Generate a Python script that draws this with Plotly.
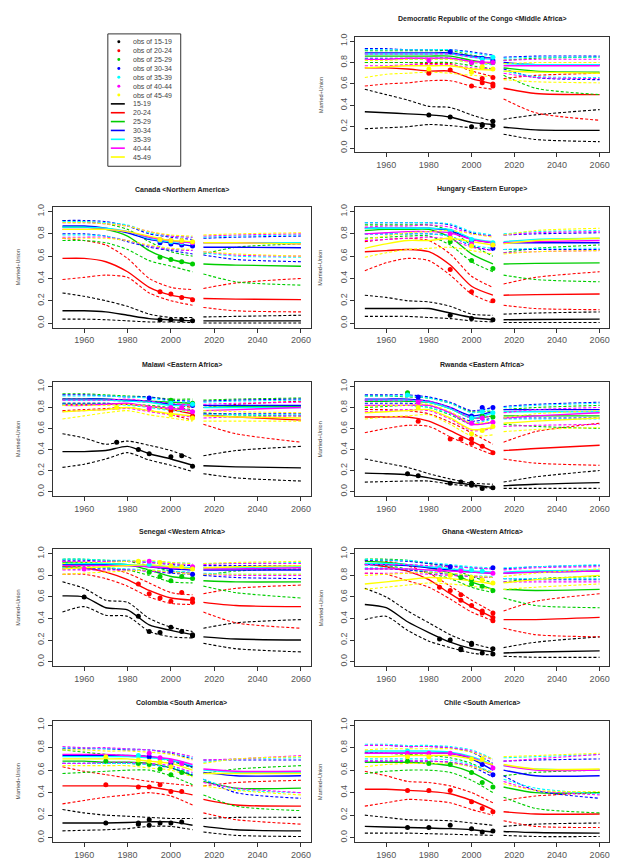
import plotly.graph_objects as go

# ---------------- data ----------------
AGE_GROUPS = ["15-19", "20-24", "25-29", "30-34", "35-39", "40-44", "45-49"]
PAST_YEARS = [1950, 1960, 1970, 1980, 1990, 2000, 2010]
FUTURE_YEARS = [2015, 2030, 2060]
X_TICKS = [1960, 1980, 2000, 2020, 2040, 2060]
Y_TICKS = [0.0, 0.2, 0.4, 0.6, 0.8, 1.0]
Y_TICK_TEXT = ["0.0", "0.2", "0.4", "0.6", "0.8", "1.0"]

# each row: 7 past values (PAST_YEARS) then 3 future values (FUTURE_YEARS)
# ---- DR Congo
COD_MED = [
    [0.34, 0.33, 0.32, 0.31, 0.29, 0.24, 0.22, 0.195, 0.17, 0.165],
    [0.75, 0.75, 0.74, 0.72, 0.72, 0.65, 0.60, 0.56, 0.51, 0.50],
    [0.86, 0.86, 0.86, 0.86, 0.86, 0.82, 0.79, 0.75, 0.72, 0.71],
    [0.89, 0.89, 0.89, 0.89, 0.89, 0.86, 0.84, 0.80, 0.78, 0.78],
    [0.88, 0.88, 0.88, 0.88, 0.88, 0.85, 0.83, 0.79, 0.78, 0.78],
    [0.83, 0.83, 0.84, 0.84, 0.84, 0.81, 0.80, 0.77, 0.77, 0.77],
    [0.75, 0.76, 0.77, 0.77, 0.77, 0.74, 0.73, 0.72, 0.71, 0.70],
]
COD_LO = [
    [0.18, 0.19, 0.20, 0.22, 0.21, 0.19, 0.18, 0.13, 0.08, 0.06],
    [0.58, 0.60, 0.61, 0.63, 0.63, 0.58, 0.55, 0.46, 0.33, 0.26],
    [0.80, 0.80, 0.80, 0.80, 0.80, 0.77, 0.74, 0.68, 0.56, 0.50],
    [0.84, 0.84, 0.84, 0.84, 0.84, 0.81, 0.79, 0.74, 0.66, 0.64],
    [0.83, 0.83, 0.83, 0.83, 0.83, 0.80, 0.78, 0.72, 0.67, 0.66],
    [0.77, 0.77, 0.78, 0.78, 0.78, 0.75, 0.74, 0.70, 0.66, 0.65],
    [0.66, 0.69, 0.70, 0.71, 0.70, 0.68, 0.67, 0.64, 0.62, 0.61],
]
COD_HI = [
    [0.55, 0.50, 0.45, 0.39, 0.38, 0.31, 0.25, 0.27, 0.31, 0.36],
    [0.80, 0.80, 0.80, 0.79, 0.79, 0.72, 0.67, 0.65, 0.68, 0.70],
    [0.91, 0.91, 0.91, 0.91, 0.91, 0.87, 0.84, 0.82, 0.84, 0.85],
    [0.93, 0.93, 0.92, 0.92, 0.92, 0.90, 0.87, 0.85, 0.86, 0.86],
    [0.92, 0.92, 0.92, 0.92, 0.92, 0.89, 0.86, 0.84, 0.85, 0.85],
    [0.88, 0.88, 0.88, 0.88, 0.88, 0.85, 0.84, 0.82, 0.83, 0.83],
    [0.82, 0.82, 0.83, 0.83, 0.83, 0.80, 0.79, 0.79, 0.80, 0.80],
]
COD_OBS = [
    [[1980, 0.31], [1990, 0.29], [2000, 0.20], [2005, 0.21], [2005, 0.22], [2010, 0.25], [2010, 0.21]],
    [[1980, 0.70], [1990, 0.73], [2000, 0.58], [2005, 0.65], [2005, 0.61], [2010, 0.66], [2010, 0.60], [2010, 0.58]],
    [[2000, 0.80], [2010, 0.80]],
    [[1990, 0.90], [2005, 0.84], [2010, 0.82]],
    [[2005, 0.83], [2010, 0.85]],
    [[1980, 0.82], [2000, 0.80], [2005, 0.80], [2010, 0.80]],
    [[1980, 0.74], [2000, 0.71], [2005, 0.76], [2010, 0.74]],
]
# ---- Canada
CAN_MED = [
    [0.11, 0.11, 0.10, 0.07, 0.04, 0.03, 0.02, 0.02, 0.02, 0.02],
    [0.58, 0.58, 0.55, 0.46, 0.32, 0.25, 0.22, 0.22, 0.215, 0.21],
    [0.86, 0.86, 0.84, 0.78, 0.65, 0.57, 0.53, 0.53, 0.52, 0.51],
    [0.87, 0.87, 0.85, 0.81, 0.75, 0.72, 0.69, 0.68, 0.68, 0.675],
    [0.86, 0.86, 0.85, 0.82, 0.76, 0.73, 0.72, 0.72, 0.72, 0.72],
    [0.84, 0.84, 0.84, 0.82, 0.77, 0.74, 0.72, 0.72, 0.72, 0.71],
    [0.84, 0.84, 0.84, 0.82, 0.78, 0.74, 0.73, 0.72, 0.72, 0.71],
]
CAN_LO = [
    [0.035, 0.035, 0.03, 0.02, 0.01, 0.01, 0.005, 0.0, 0.0, 0.0],
    [0.39, 0.41, 0.43, 0.41, 0.27, 0.20, 0.16, 0.14, 0.11, 0.10],
    [0.74, 0.74, 0.72, 0.66, 0.56, 0.51, 0.46, 0.44, 0.37, 0.34],
    [0.80, 0.80, 0.78, 0.73, 0.68, 0.65, 0.62, 0.61, 0.57, 0.55],
    [0.79, 0.79, 0.78, 0.74, 0.69, 0.66, 0.65, 0.63, 0.60, 0.59],
    [0.77, 0.77, 0.77, 0.74, 0.69, 0.66, 0.65, 0.64, 0.61, 0.60],
    [0.76, 0.76, 0.76, 0.74, 0.70, 0.67, 0.66, 0.64, 0.62, 0.60],
]
CAN_HI = [
    [0.27, 0.24, 0.20, 0.15, 0.08, 0.05, 0.05, 0.055, 0.06, 0.07],
    [0.76, 0.74, 0.70, 0.58, 0.40, 0.32, 0.30, 0.31, 0.36, 0.40],
    [0.92, 0.91, 0.89, 0.84, 0.73, 0.64, 0.60, 0.62, 0.68, 0.71],
    [0.92, 0.92, 0.91, 0.87, 0.80, 0.77, 0.75, 0.76, 0.77, 0.78],
    [0.91, 0.91, 0.90, 0.88, 0.81, 0.78, 0.77, 0.77, 0.78, 0.79],
    [0.90, 0.90, 0.89, 0.87, 0.82, 0.78, 0.77, 0.78, 0.79, 0.80],
    [0.90, 0.90, 0.89, 0.87, 0.82, 0.79, 0.78, 0.79, 0.80, 0.81],
]
CAN_OBS = [
    [[1995, 0.03], [2000, 0.03], [2005, 0.03], [2010, 0.02]],
    [[1995, 0.28], [2000, 0.26], [2005, 0.23], [2010, 0.21]],
    [[1995, 0.59], [2000, 0.57], [2005, 0.55], [2010, 0.53]],
    [[1995, 0.72], [2000, 0.71], [2005, 0.70], [2010, 0.69]],
    [[1995, 0.74], [2000, 0.73], [2005, 0.72], [2010, 0.72]],
    [[1995, 0.75], [2000, 0.74], [2005, 0.73], [2010, 0.72]],
    [[1995, 0.75], [2000, 0.74], [2005, 0.74], [2010, 0.73]],
]
# ---- Hungary
HUN_MED = [
    [0.13, 0.13, 0.13, 0.13, 0.09, 0.05, 0.03, 0.03, 0.032, 0.035],
    [0.64, 0.65, 0.66, 0.64, 0.52, 0.33, 0.25, 0.25, 0.255, 0.26],
    [0.83, 0.84, 0.84, 0.84, 0.77, 0.62, 0.53, 0.53, 0.535, 0.54],
    [0.85, 0.85, 0.85, 0.85, 0.83, 0.75, 0.72, 0.72, 0.72, 0.72],
    [0.85, 0.85, 0.85, 0.85, 0.84, 0.76, 0.73, 0.73, 0.75, 0.76],
    [0.80, 0.81, 0.82, 0.82, 0.81, 0.75, 0.72, 0.72, 0.73, 0.74],
    [0.67, 0.71, 0.74, 0.74, 0.76, 0.73, 0.70, 0.71, 0.74, 0.76],
]
HUN_LO = [
    [0.06, 0.06, 0.06, 0.05, 0.04, 0.02, 0.01, 0.005, 0.005, 0.005],
    [0.47, 0.54, 0.58, 0.56, 0.43, 0.26, 0.18, 0.16, 0.13, 0.12],
    [0.76, 0.77, 0.78, 0.78, 0.70, 0.55, 0.46, 0.43, 0.39, 0.37],
    [0.80, 0.80, 0.80, 0.80, 0.78, 0.69, 0.65, 0.66, 0.66, 0.66],
    [0.80, 0.80, 0.80, 0.80, 0.78, 0.70, 0.67, 0.66, 0.67, 0.67],
    [0.74, 0.75, 0.76, 0.77, 0.75, 0.68, 0.65, 0.63, 0.64, 0.65],
    [0.59, 0.63, 0.66, 0.67, 0.68, 0.65, 0.62, 0.62, 0.64, 0.65],
]
HUN_HI = [
    [0.25, 0.23, 0.20, 0.19, 0.15, 0.08, 0.07, 0.08, 0.09, 0.10],
    [0.73, 0.75, 0.76, 0.74, 0.62, 0.42, 0.32, 0.35, 0.41, 0.46],
    [0.88, 0.88, 0.88, 0.88, 0.83, 0.70, 0.60, 0.63, 0.67, 0.70],
    [0.90, 0.90, 0.90, 0.90, 0.88, 0.81, 0.78, 0.79, 0.80, 0.81],
    [0.90, 0.90, 0.90, 0.90, 0.89, 0.82, 0.79, 0.80, 0.82, 0.83],
    [0.86, 0.87, 0.87, 0.88, 0.86, 0.80, 0.78, 0.79, 0.81, 0.82],
    [0.75, 0.78, 0.81, 0.82, 0.83, 0.80, 0.77, 0.79, 0.83, 0.85],
]
HUN_OBS = [
    [[1990, 0.07], [2000, 0.04], [2010, 0.03]],
    [[1990, 0.48], [2000, 0.28], [2010, 0.20]],
    [[1990, 0.73], [2000, 0.56], [2010, 0.49]],
    [[2000, 0.74], [2010, 0.67]],
    [[1990, 0.82], [2000, 0.75], [2010, 0.72]],
    [[1990, 0.80], [2000, 0.71], [2010, 0.70]],
    [[1990, 0.76], [2000, 0.69], [2010, 0.70]],
]
# ---- Malawi
MWI_MED = [
    [0.38, 0.38, 0.39, 0.43, 0.36, 0.31, 0.25, 0.245, 0.235, 0.225],
    [0.83, 0.83, 0.83, 0.83, 0.81, 0.78, 0.74, 0.73, 0.71, 0.68],
    [0.88, 0.88, 0.88, 0.87, 0.86, 0.85, 0.84, 0.82, 0.81, 0.81],
    [0.88, 0.88, 0.88, 0.87, 0.86, 0.83, 0.82, 0.82, 0.82, 0.82],
    [0.87, 0.87, 0.87, 0.86, 0.85, 0.82, 0.82, 0.80, 0.80, 0.80],
    [0.82, 0.82, 0.83, 0.84, 0.81, 0.79, 0.77, 0.77, 0.78, 0.80],
    [0.76, 0.77, 0.78, 0.80, 0.77, 0.74, 0.72, 0.72, 0.71, 0.70],
]
MWI_LO = [
    [0.23, 0.26, 0.31, 0.37, 0.30, 0.25, 0.19, 0.17, 0.13, 0.10],
    [0.77, 0.78, 0.79, 0.80, 0.77, 0.73, 0.68, 0.64, 0.55, 0.47],
    [0.84, 0.84, 0.84, 0.83, 0.82, 0.80, 0.78, 0.75, 0.73, 0.72],
    [0.84, 0.84, 0.84, 0.83, 0.81, 0.78, 0.77, 0.74, 0.74, 0.74],
    [0.83, 0.83, 0.83, 0.82, 0.80, 0.77, 0.76, 0.73, 0.73, 0.73],
    [0.76, 0.77, 0.78, 0.79, 0.76, 0.73, 0.71, 0.70, 0.71, 0.72],
    [0.69, 0.72, 0.75, 0.77, 0.73, 0.70, 0.67, 0.67, 0.67, 0.67],
]
MWI_HI = [
    [0.55, 0.51, 0.45, 0.48, 0.44, 0.39, 0.31, 0.34, 0.39, 0.43],
    [0.88, 0.88, 0.87, 0.86, 0.85, 0.83, 0.80, 0.80, 0.83, 0.86],
    [0.93, 0.93, 0.92, 0.91, 0.90, 0.88, 0.88, 0.87, 0.88, 0.89],
    [0.92, 0.92, 0.91, 0.90, 0.90, 0.87, 0.86, 0.86, 0.87, 0.88],
    [0.91, 0.91, 0.91, 0.90, 0.89, 0.86, 0.85, 0.85, 0.86, 0.87],
    [0.87, 0.87, 0.87, 0.88, 0.86, 0.84, 0.82, 0.83, 0.84, 0.85],
    [0.82, 0.82, 0.82, 0.83, 0.81, 0.78, 0.76, 0.77, 0.76, 0.75],
]
MWI_OBS = [
    [[1975, 0.47], [1985, 0.40], [1990, 0.36], [2000, 0.33], [2005, 0.34], [2010, 0.24]],
    [[2000, 0.77], [2010, 0.72]],
    [[2000, 0.87], [2010, 0.84]],
    [[1990, 0.89], [2010, 0.82]],
    [[2000, 0.84], [2010, 0.83]],
    [[1990, 0.79], [2000, 0.80], [2005, 0.80], [2010, 0.76]],
    [[1975, 0.80], [2000, 0.73], [2010, 0.70]],
]
# ---- Rwanda
RWA_MED = [
    [0.175, 0.17, 0.16, 0.13, 0.09, 0.065, 0.04, 0.055, 0.07, 0.085],
    [0.71, 0.71, 0.71, 0.67, 0.58, 0.48, 0.38, 0.39, 0.41, 0.44],
    [0.86, 0.86, 0.86, 0.85, 0.79, 0.70, 0.72, 0.72, 0.72, 0.72],
    [0.88, 0.88, 0.88, 0.86, 0.80, 0.72, 0.76, 0.78, 0.78, 0.78],
    [0.87, 0.87, 0.87, 0.85, 0.79, 0.70, 0.75, 0.76, 0.76, 0.76],
    [0.82, 0.82, 0.82, 0.82, 0.75, 0.64, 0.66, 0.70, 0.72, 0.75],
    [0.75, 0.76, 0.77, 0.78, 0.70, 0.59, 0.61, 0.65, 0.67, 0.70],
]
RWA_LO = [
    [0.09, 0.095, 0.10, 0.10, 0.07, 0.05, 0.03, 0.03, 0.03, 0.03],
    [0.56, 0.60, 0.63, 0.62, 0.52, 0.43, 0.35, 0.31, 0.27, 0.25],
    [0.80, 0.81, 0.82, 0.80, 0.73, 0.64, 0.66, 0.64, 0.62, 0.60],
    [0.84, 0.84, 0.84, 0.82, 0.75, 0.67, 0.70, 0.70, 0.70, 0.70],
    [0.82, 0.82, 0.82, 0.80, 0.74, 0.65, 0.69, 0.69, 0.69, 0.69],
    [0.76, 0.77, 0.78, 0.77, 0.69, 0.58, 0.60, 0.62, 0.63, 0.64],
    [0.69, 0.71, 0.72, 0.73, 0.64, 0.53, 0.54, 0.57, 0.59, 0.61],
]
RWA_HI = [
    [0.31, 0.27, 0.23, 0.17, 0.12, 0.08, 0.07, 0.09, 0.14, 0.20],
    [0.78, 0.78, 0.77, 0.74, 0.66, 0.56, 0.45, 0.47, 0.57, 0.65],
    [0.91, 0.91, 0.90, 0.89, 0.84, 0.76, 0.77, 0.78, 0.80, 0.82],
    [0.92, 0.92, 0.92, 0.90, 0.85, 0.77, 0.80, 0.81, 0.83, 0.85],
    [0.91, 0.91, 0.91, 0.89, 0.84, 0.75, 0.79, 0.80, 0.82, 0.84],
    [0.87, 0.87, 0.87, 0.86, 0.80, 0.70, 0.72, 0.75, 0.78, 0.80],
    [0.81, 0.82, 0.82, 0.83, 0.76, 0.65, 0.67, 0.70, 0.74, 0.77],
]
RWA_OBS = [
    [[1970, 0.17], [1975, 0.15], [1990, 0.08], [1995, 0.09], [2000, 0.08], [2000, 0.06], [2005, 0.03], [2010, 0.035]],
    [[1975, 0.67], [1990, 0.50], [1995, 0.50], [2000, 0.50], [2000, 0.46], [2005, 0.43], [2010, 0.37]],
    [[1970, 0.94], [2000, 0.70], [2005, 0.72], [2010, 0.71]],
    [[1975, 0.90], [2000, 0.72], [2005, 0.80], [2010, 0.80]],
    [[1970, 0.92], [2000, 0.70], [2005, 0.76], [2010, 0.75]],
    [[1975, 0.85], [2000, 0.65], [2005, 0.70], [2010, 0.66]],
    [[1975, 0.80], [2000, 0.55], [2005, 0.58], [2010, 0.62]],
]
# ---- Senegal
SEN_MED = [
    [0.61, 0.60, 0.50, 0.48, 0.34, 0.29, 0.25, 0.23, 0.21, 0.20],
    [0.88, 0.87, 0.83, 0.76, 0.66, 0.59, 0.57, 0.55, 0.52, 0.51],
    [0.92, 0.92, 0.91, 0.90, 0.85, 0.79, 0.77, 0.75, 0.74, 0.74],
    [0.90, 0.90, 0.90, 0.89, 0.88, 0.86, 0.85, 0.85, 0.85, 0.85],
    [0.91, 0.91, 0.91, 0.90, 0.89, 0.88, 0.87, 0.87, 0.87, 0.88],
    [0.89, 0.89, 0.89, 0.89, 0.88, 0.87, 0.86, 0.86, 0.86, 0.87],
    [0.86, 0.87, 0.88, 0.89, 0.90, 0.88, 0.86, 0.87, 0.88, 0.89],
]
SEN_LO = [
    [0.46, 0.51, 0.43, 0.42, 0.28, 0.23, 0.22, 0.17, 0.12, 0.09],
    [0.81, 0.81, 0.77, 0.70, 0.60, 0.54, 0.53, 0.46, 0.36, 0.31],
    [0.88, 0.88, 0.87, 0.85, 0.80, 0.74, 0.73, 0.70, 0.64, 0.59],
    [0.86, 0.86, 0.86, 0.85, 0.84, 0.82, 0.81, 0.80, 0.78, 0.77],
    [0.87, 0.87, 0.87, 0.86, 0.85, 0.84, 0.83, 0.82, 0.81, 0.81],
    [0.85, 0.85, 0.85, 0.85, 0.84, 0.83, 0.82, 0.81, 0.80, 0.80],
    [0.81, 0.82, 0.83, 0.84, 0.85, 0.83, 0.81, 0.81, 0.81, 0.81],
]
SEN_HI = [
    [0.74, 0.68, 0.57, 0.55, 0.40, 0.32, 0.28, 0.31, 0.36, 0.39],
    [0.93, 0.92, 0.88, 0.82, 0.73, 0.64, 0.62, 0.63, 0.68, 0.71],
    [0.95, 0.95, 0.94, 0.93, 0.89, 0.84, 0.82, 0.80, 0.84, 0.86],
    [0.94, 0.94, 0.93, 0.93, 0.92, 0.90, 0.89, 0.89, 0.89, 0.89],
    [0.95, 0.95, 0.94, 0.94, 0.93, 0.92, 0.91, 0.91, 0.91, 0.92],
    [0.93, 0.93, 0.93, 0.93, 0.92, 0.91, 0.90, 0.90, 0.91, 0.91],
    [0.91, 0.92, 0.92, 0.93, 0.94, 0.92, 0.91, 0.91, 0.92, 0.93],
]
SEN_OBS = [
    [[1960, 0.60], [1985, 0.42], [1990, 0.28], [1995, 0.27], [2000, 0.32], [2005, 0.28], [2010, 0.25], [2010, 0.24]],
    [[1985, 0.72], [1990, 0.63], [1995, 0.59], [2000, 0.56], [2005, 0.64], [2010, 0.58], [2010, 0.55]],
    [[1990, 0.83], [1995, 0.79], [2000, 0.75], [2005, 0.79], [2010, 0.77]],
    [[2000, 0.84], [2010, 0.81]],
    [[1990, 0.90], [2010, 0.87]],
    [[1960, 0.86], [1990, 0.93], [2010, 0.88]],
    [[1985, 0.93], [1995, 0.92], [2000, 0.89], [2005, 0.88], [2010, 0.86]],
]
# ---- Ghana
GHA_MED = [
    [0.53, 0.50, 0.37, 0.27, 0.18, 0.12, 0.09, 0.08, 0.09, 0.10],
    [0.91, 0.88, 0.84, 0.76, 0.63, 0.51, 0.41, 0.39, 0.39, 0.41],
    [0.93, 0.92, 0.90, 0.87, 0.82, 0.74, 0.67, 0.67, 0.66, 0.67],
    [0.90, 0.90, 0.89, 0.87, 0.85, 0.83, 0.82, 0.82, 0.83, 0.84],
    [0.91, 0.91, 0.90, 0.88, 0.86, 0.84, 0.83, 0.83, 0.84, 0.85],
    [0.86, 0.86, 0.86, 0.85, 0.84, 0.83, 0.82, 0.82, 0.83, 0.84],
    [0.72, 0.74, 0.76, 0.78, 0.77, 0.75, 0.72, 0.73, 0.76, 0.80],
]
GHA_LO = [
    [0.39, 0.42, 0.29, 0.19, 0.13, 0.08, 0.06, 0.05, 0.04, 0.04],
    [0.82, 0.81, 0.75, 0.69, 0.58, 0.46, 0.38, 0.31, 0.25, 0.23],
    [0.90, 0.89, 0.86, 0.82, 0.77, 0.69, 0.64, 0.59, 0.52, 0.50],
    [0.86, 0.86, 0.85, 0.83, 0.81, 0.79, 0.78, 0.77, 0.76, 0.76],
    [0.87, 0.87, 0.86, 0.84, 0.82, 0.80, 0.79, 0.77, 0.77, 0.77],
    [0.82, 0.82, 0.82, 0.81, 0.80, 0.79, 0.78, 0.74, 0.74, 0.74],
    [0.67, 0.69, 0.71, 0.73, 0.72, 0.70, 0.67, 0.67, 0.69, 0.72],
]
GHA_HI = [
    [0.68, 0.60, 0.47, 0.36, 0.25, 0.17, 0.12, 0.13, 0.18, 0.23],
    [0.94, 0.93, 0.89, 0.82, 0.70, 0.57, 0.46, 0.47, 0.56, 0.63],
    [0.95, 0.95, 0.94, 0.91, 0.87, 0.79, 0.73, 0.74, 0.77, 0.79],
    [0.94, 0.94, 0.93, 0.91, 0.89, 0.87, 0.86, 0.86, 0.88, 0.89],
    [0.95, 0.94, 0.94, 0.92, 0.90, 0.88, 0.87, 0.87, 0.88, 0.90],
    [0.90, 0.90, 0.90, 0.89, 0.88, 0.87, 0.86, 0.85, 0.87, 0.88],
    [0.80, 0.81, 0.82, 0.83, 0.82, 0.80, 0.78, 0.79, 0.82, 0.86],
]
GHA_OBS = [
    [[1985, 0.21], [1990, 0.20], [1995, 0.12], [1995, 0.11], [2000, 0.17], [2000, 0.16], [2005, 0.08], [2010, 0.12], [2010, 0.07]],
    [[1985, 0.69], [1990, 0.66], [1995, 0.62], [1995, 0.57], [2000, 0.52], [2005, 0.47], [2005, 0.45], [2010, 0.45], [2010, 0.41], [2010, 0.38]],
    [[1995, 0.78], [2000, 0.76], [2000, 0.72], [2005, 0.70], [2010, 0.66]],
    [[1990, 0.88], [2010, 0.87]],
    [[1985, 0.87], [1995, 0.86], [2000, 0.85], [2005, 0.84]],
    [[1985, 0.85], [1995, 0.84], [2010, 0.82]],
    [[1985, 0.76], [1990, 0.80], [2000, 0.78], [2005, 0.76], [2010, 0.73]],
]
# ---- Colombia
COL_MED = [
    [0.13, 0.13, 0.13, 0.135, 0.14, 0.14, 0.11, 0.10, 0.07, 0.06],
    [0.46, 0.46, 0.46, 0.46, 0.45, 0.42, 0.38, 0.34, 0.29, 0.28],
    [0.68, 0.68, 0.67, 0.67, 0.66, 0.62, 0.55, 0.50, 0.44, 0.44],
    [0.73, 0.73, 0.73, 0.73, 0.72, 0.69, 0.63, 0.58, 0.55, 0.55],
    [0.72, 0.72, 0.72, 0.72, 0.71, 0.69, 0.64, 0.60, 0.58, 0.58],
    [0.74, 0.74, 0.74, 0.73, 0.72, 0.70, 0.65, 0.61, 0.59, 0.59],
    [0.70, 0.70, 0.70, 0.70, 0.68, 0.66, 0.60, 0.57, 0.57, 0.57],
]
COL_LO = [
    [0.06, 0.065, 0.07, 0.08, 0.10, 0.10, 0.07, 0.05, 0.02, 0.01],
    [0.30, 0.33, 0.36, 0.38, 0.40, 0.37, 0.29, 0.22, 0.16, 0.12],
    [0.57, 0.58, 0.59, 0.60, 0.60, 0.55, 0.47, 0.38, 0.28, 0.24],
    [0.66, 0.66, 0.66, 0.66, 0.65, 0.62, 0.56, 0.52, 0.40, 0.35],
    [0.66, 0.66, 0.66, 0.66, 0.65, 0.63, 0.57, 0.52, 0.43, 0.40],
    [0.66, 0.66, 0.67, 0.67, 0.66, 0.64, 0.58, 0.49, 0.44, 0.40],
    [0.64, 0.64, 0.64, 0.64, 0.62, 0.60, 0.54, 0.46, 0.42, 0.38],
]
COL_HI = [
    [0.25, 0.22, 0.20, 0.19, 0.18, 0.17, 0.17, 0.17, 0.18, 0.18],
    [0.63, 0.59, 0.56, 0.53, 0.50, 0.48, 0.46, 0.46, 0.49, 0.51],
    [0.78, 0.76, 0.74, 0.73, 0.72, 0.68, 0.62, 0.57, 0.61, 0.64],
    [0.79, 0.79, 0.79, 0.78, 0.78, 0.75, 0.70, 0.69, 0.69, 0.69],
    [0.80, 0.80, 0.79, 0.79, 0.78, 0.76, 0.71, 0.67, 0.70, 0.71],
    [0.81, 0.80, 0.80, 0.79, 0.78, 0.76, 0.72, 0.69, 0.70, 0.73],
    [0.78, 0.78, 0.77, 0.77, 0.76, 0.74, 0.69, 0.66, 0.70, 0.72],
]
COL_OBS = [
    [[1970, 0.13], [1985, 0.13], [1985, 0.12], [1990, 0.16], [1990, 0.11], [1995, 0.13], [2000, 0.13], [2005, 0.14]],
    [[1970, 0.47], [1985, 0.45], [1990, 0.45], [1995, 0.47], [2000, 0.41], [2005, 0.41]],
    [[1970, 0.68], [1985, 0.66], [1990, 0.65], [1995, 0.61], [2000, 0.56], [2005, 0.58]],
    [[1990, 0.72], [2000, 0.66]],
    [[1985, 0.73], [1995, 0.70]],
    [[1990, 0.75], [1995, 0.71], [2000, 0.68], [2005, 0.66]],
    [[1970, 0.72], [1985, 0.69], [1990, 0.68], [1995, 0.67], [2000, 0.63]],
]
# ---- Chile
CHL_MED = [
    [0.10, 0.095, 0.09, 0.085, 0.08, 0.07, 0.05, 0.055, 0.045, 0.04],
    [0.43, 0.43, 0.42, 0.41, 0.39, 0.33, 0.25, 0.23, 0.21, 0.21],
    [0.67, 0.67, 0.67, 0.66, 0.64, 0.58, 0.48, 0.45, 0.40, 0.40],
    [0.75, 0.75, 0.75, 0.75, 0.75, 0.70, 0.60, 0.60, 0.55, 0.55],
    [0.77, 0.77, 0.77, 0.77, 0.76, 0.72, 0.65, 0.64, 0.61, 0.60],
    [0.75, 0.75, 0.75, 0.75, 0.75, 0.71, 0.64, 0.64, 0.60, 0.60],
    [0.72, 0.72, 0.73, 0.73, 0.73, 0.70, 0.65, 0.65, 0.61, 0.61],
]
CHL_LO = [
    [0.04, 0.04, 0.04, 0.035, 0.03, 0.025, 0.02, 0.02, 0.01, 0.01],
    [0.28, 0.31, 0.34, 0.33, 0.31, 0.25, 0.20, 0.15, 0.10, 0.09],
    [0.57, 0.59, 0.60, 0.60, 0.58, 0.51, 0.40, 0.36, 0.26, 0.22],
    [0.68, 0.68, 0.68, 0.68, 0.67, 0.63, 0.54, 0.55, 0.42, 0.35],
    [0.70, 0.70, 0.70, 0.70, 0.69, 0.65, 0.58, 0.52, 0.44, 0.39],
    [0.68, 0.68, 0.68, 0.68, 0.67, 0.64, 0.57, 0.50, 0.42, 0.38],
    [0.63, 0.65, 0.66, 0.66, 0.66, 0.63, 0.58, 0.48, 0.42, 0.41],
]
CHL_HI = [
    [0.20, 0.18, 0.16, 0.155, 0.15, 0.13, 0.11, 0.10, 0.12, 0.13],
    [0.59, 0.55, 0.50, 0.49, 0.46, 0.40, 0.31, 0.33, 0.37, 0.40],
    [0.76, 0.75, 0.74, 0.73, 0.71, 0.66, 0.56, 0.55, 0.58, 0.60],
    [0.82, 0.82, 0.81, 0.81, 0.80, 0.76, 0.66, 0.68, 0.69, 0.70],
    [0.83, 0.83, 0.82, 0.82, 0.81, 0.78, 0.70, 0.71, 0.72, 0.74],
    [0.82, 0.82, 0.81, 0.81, 0.80, 0.77, 0.69, 0.68, 0.70, 0.74],
    [0.78, 0.79, 0.79, 0.79, 0.79, 0.76, 0.70, 0.72, 0.73, 0.75],
]
CHL_OBS = [
    [[1970, 0.09], [1980, 0.09], [1990, 0.11], [2000, 0.08], [2005, 0.05], [2010, 0.06]],
    [[1970, 0.42], [1980, 0.42], [1990, 0.42], [2000, 0.32], [2005, 0.26], [2010, 0.23]],
    [[1970, 0.68], [1980, 0.66], [1990, 0.65], [2000, 0.58], [2005, 0.49], [2010, 0.45]],
    [[2005, 0.65], [2010, 0.56]],
    [[1970, 0.77], [2005, 0.70]],
    [[1970, 0.75], [1980, 0.75], [1990, 0.75], [2010, 0.62]],
    [[1970, 0.72], [1980, 0.72], [2000, 0.70], [2005, 0.70]],
]

PANEL_TITLES = [
    "Democratic Republic of the Congo <Middle Africa>",
    "Canada <Northern America>",
    "Hungary <Eastern Europe>",
    "Malawi <Eastern Africa>",
    "Rwanda <Eastern Africa>",
    "Senegal <Western Africa>",
    "Ghana <Western Africa>",
    "Colombia <South America>",
    "Chile <South America>",
]
PANEL_DATA = [
    (COD_MED, COD_LO, COD_HI, COD_OBS),
    (CAN_MED, CAN_LO, CAN_HI, CAN_OBS),
    (HUN_MED, HUN_LO, HUN_HI, HUN_OBS),
    (MWI_MED, MWI_LO, MWI_HI, MWI_OBS),
    (RWA_MED, RWA_LO, RWA_HI, RWA_OBS),
    (SEN_MED, SEN_LO, SEN_HI, SEN_OBS),
    (GHA_MED, GHA_LO, GHA_HI, GHA_OBS),
    (COL_MED, COL_LO, COL_HI, COL_OBS),
    (CHL_MED, CHL_LO, CHL_HI, CHL_OBS),
]

# ---------------- styles / layout ----------------
W, H = 619, 861
COLORS = ["#000000", "#FF0000", "#00CD00", "#0000FF", "#00FFFF", "#FF00FF", "#FFFF00"]
# pixel boxes of each panel (x0, x1, y0_top, y1_bottom)
COLS = [(45, 303), (348, 602)]
ROWS = [(26, 142), (197, 318), (373, 487), (541, 658), (713, 835)]
PANEL_POS = [(1, 0), (0, 1), (1, 1), (0, 2), (1, 2), (0, 3), (1, 3), (0, 4), (1, 4)]
FONT = "Liberation Sans, Arial, sans-serif"


def px(x):
    return x / W


def py(y):
    return 1 - y / H


fig = go.Figure()
annotations = []
shapes = []

for i, (title, (med, lo, hi, obs)) in enumerate(zip(PANEL_TITLES, PANEL_DATA)):
    c, r = PANEL_POS[i]
    x0, x1 = COLS[c]
    y0, y1 = ROWS[r]
    n = i + 1
    xa = "x" if n == 1 else f"x{n}"
    ya = "y" if n == 1 else f"y{n}"
    xkey = "xaxis" if n == 1 else f"xaxis{n}"
    ykey = "yaxis" if n == 1 else f"yaxis{n}"
    for g in range(len(AGE_GROUPS)):
        col = COLORS[g]
        for rows, dash, wd in ((lo, "3px,2px", 1.1), (hi, "3px,2px", 1.1), (med, "solid", 1.4)):
            vals = rows[g]
            fig.add_trace(go.Scatter(
                x=PAST_YEARS, y=vals[:7], mode="lines", xaxis=xa, yaxis=ya,
                line=dict(color=col, width=wd, dash=dash, shape="spline", smoothing=0.7),
                showlegend=False, hoverinfo="skip"))
            fig.add_trace(go.Scatter(
                x=FUTURE_YEARS, y=vals[7:], mode="lines", xaxis=xa, yaxis=ya,
                line=dict(color=col, width=wd, dash=dash, shape="spline", smoothing=0.7),
                showlegend=False, hoverinfo="skip"))
    for g in range(len(AGE_GROUPS)):
        pts = obs[g]
        fig.add_trace(go.Scatter(
            x=[p[0] for p in pts], y=[p[1] for p in pts], mode="markers",
            xaxis=xa, yaxis=ya,
            marker=dict(color=COLORS[g], size=5, line=dict(width=0)),
            showlegend=False, hoverinfo="skip"))

    axis_common = dict(showline=True, mirror=True, linecolor="#333333", linewidth=1,
                       ticks="outside", ticklen=4, tickcolor="#333333", showgrid=False,
                       zeroline=False, tickfont=dict(family=FONT, size=9, color="#555555"))
    fig.layout[xkey] = dict(domain=[px(x0), px(x1)], range=[1945.6, 2064.4],
                            anchor=ya, tickvals=X_TICKS, **axis_common)
    fig.layout[ykey] = dict(domain=[py(y1), py(y0)], range=[-0.04, 1.04],
                            anchor=xa, tickvals=Y_TICKS, ticktext=Y_TICK_TEXT,
                            tickangle=-90, **axis_common)
    annotations.append(dict(
        text=f"<b>{title}</b>", x=px((x0 + x1) / 2), y=py(y0 - 18),
        xref="paper", yref="paper", showarrow=False, xanchor="center", yanchor="middle",
        font=dict(family=FONT, size=7, color="#222222")))
    annotations.append(dict(
        text="Married+Union", x=px(x0 - 35), y=py((y0 + y1) / 2),
        xref="paper", yref="paper", showarrow=False, textangle=-90,
        xanchor="center", yanchor="middle",
        font=dict(family=FONT, size=5.5, color="#444444")))

# legend drawn manually (R-style box)
LEG_X0, LEG_X1, LEG_Y0, LEG_Y1 = 100, 173, 23, 156
LEG_FIRST, LEG_STEP = 31, 8.9
shapes.append(dict(type="rect", xref="paper", yref="paper",
                   x0=px(LEG_X0), x1=px(LEG_X1), y0=py(LEG_Y1), y1=py(LEG_Y0),
                   line=dict(color="#333333", width=1), fillcolor="white"))
legend_labels = [f"obs of {a}" for a in AGE_GROUPS] + AGE_GROUPS
for k, lab in enumerate(legend_labels):
    yy = LEG_FIRST + k * LEG_STEP
    g = k % 7
    if k < 7:
        shapes.append(dict(type="circle", xref="paper", yref="paper",
                           x0=px(109.5), x1=px(112.5), y0=py(yy + 1.5), y1=py(yy - 1.5),
                           fillcolor=COLORS[g], line=dict(width=0)))
    else:
        shapes.append(dict(type="line", xref="paper", yref="paper",
                           x0=px(103), x1=px(117), y0=py(yy), y1=py(yy),
                           line=dict(color=COLORS[g], width=1.6)))
    annotations.append(dict(text=lab, x=px(123), y=py(yy), xref="paper", yref="paper",
                            showarrow=False, xanchor="left", yanchor="middle",
                            font=dict(family=FONT, size=7, color="#444444")))

fig.update_layout(width=W, height=H, margin=dict(l=0, r=0, t=0, b=0),
                  paper_bgcolor="white", plot_bgcolor="white",
                  showlegend=False, annotations=annotations, shapes=shapes)

fig.write_html("out.html")
